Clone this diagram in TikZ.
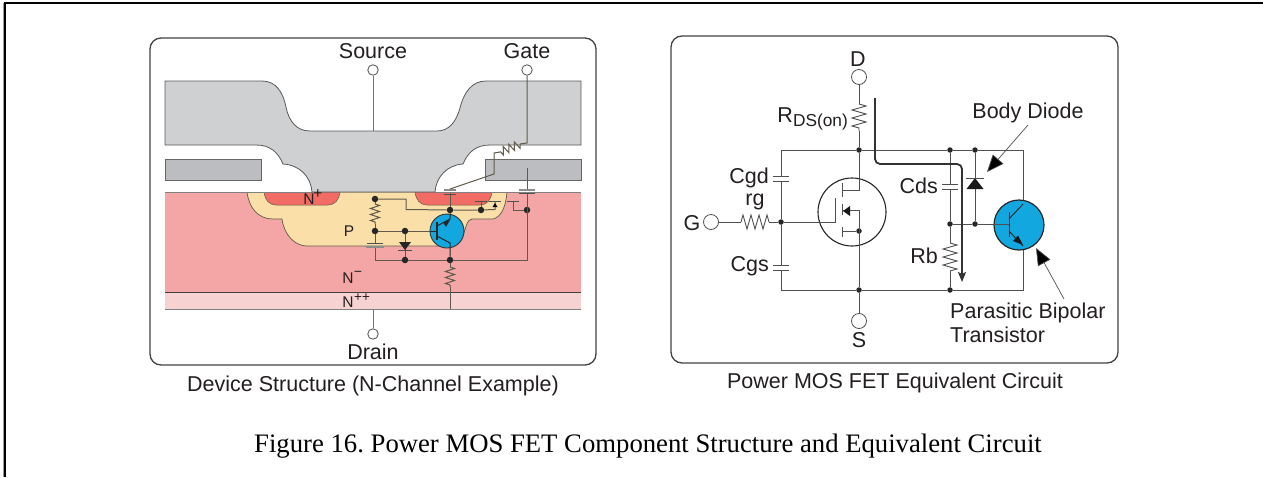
\documentclass[tikz,border=0pt]{standalone}
\usepackage{fontspec}
\setmainfont{Liberation Sans}
\newfontfamily\serifcap{Liberation Serif}
\usetikzlibrary{decorations.pathmorphing,arrows.meta,calc}
\definecolor{metal}{HTML}{CFD0D2}
\definecolor{polyg}{HTML}{BCBDC0}
\definecolor{nminus}{HTML}{F4A5A5}
\definecolor{npp}{HTML}{F6D2D2}
\definecolor{pwell}{HTML}{FAE0A8}
\definecolor{nplus}{HTML}{F06C64}
\definecolor{bjtblue}{HTML}{13A7E0}
\definecolor{wireL}{HTML}{5F5A4A}
\definecolor{wireR}{HTML}{505050}
\definecolor{txt}{HTML}{231F20}
\tikzset{
  panel/.style={draw=txt!85,line width=1.3pt,rounded corners=11pt,fill=white},
  lbl/.style={font=\fontsize{21.5}{24}\selectfont,text=txt,inner sep=0pt},
  smalllbl/.style={lbl,font=\fontsize{15.5}{18}\selectfont},
  term/.style={circle,draw=wireR,fill=white,line width=.8pt,minimum size=#1,inner sep=0pt},
  jdot/.style={circle,fill=black!85,minimum size=6.5pt,inner sep=0pt},
  jsmall/.style={circle,fill=black!85,minimum size=5.5pt,inner sep=0pt},
  wire/.style={draw=wireL,line width=1pt},
  rwire/.style={draw=wireR,line width=.9pt},
  resL/.style={wire,decorate,decoration={zigzag,segment length=6pt,amplitude=4.5pt}},
  resR/.style={rwire,decorate,decoration={zigzag,segment length=8pt,amplitude=7pt}},
  plate/.style={draw=wireR,line width=1pt},
  callout/.style={draw=wireR,line width=.7pt,-{Triangle[length=17pt,width=14pt,fill=black]}},
}
\begin{document}
\frenchspacing
\begin{tikzpicture}[x=1pt,y=-1pt]
\useasboundingbox (0,0) rectangle (1263,477);
\fill[white] (0,0) rectangle (1263,477);
% outer page frame
\draw[black,line width=2pt] (5,477) -- (5,3) -- (1263,3);
\draw[black!40,line width=1pt] (3.5,477) -- (3.5,3);
% ---------- left panel ----------
\draw[panel] (150,38) rectangle (596,365);
% substrate layers
\fill[nminus] (165,192) rectangle (581,292);
\fill[npp] (165,292) rectangle (581,309);
\draw[black!75,line width=.9pt] (165,292) -- (581,292);
\draw[black!50,line width=1pt] (165,309) -- (581,309);
% p well
\path[fill=pwell,draw=wireL,line width=.7pt]
  (247,192) .. controls (249,208) and (258,219) .. (273,219) -- (282,219)
  .. controls (284,235) and (295,246) .. (307,246) -- (450,246)
  -- (462,238) .. controls (466,228) and (467,219) .. (472,219) -- (493,219)
  .. controls (502,217) and (506,205) .. (507,192) -- cycle;
% n+ regions
\path[fill=nplus,draw=wireL,line width=.5pt] (264,192) .. controls (265,200) and (269,205) .. (276,205) -- (328,205) .. controls (335,205) and (339,200) .. (340,192) -- cycle;
\path[fill=nplus,draw=wireL,line width=.5pt] (415,192) .. controls (416,200) and (420,205) .. (427,205) -- (480,205) .. controls (487,205) and (491,200) .. (492,192) -- cycle;
% white oxide + metal
\fill[white] (165,145) rectangle (581,192);
\draw[black!50,line width=.8pt] (165,192) -- (312,192);
\draw[black!50,line width=.8pt] (435,192) -- (581,192);
\path[fill=polyg,draw=black!60,line width=.8pt] (165,159.5) rectangle (261,180);
\path[fill=polyg,draw=black!60,line width=.8pt] (485,159.5) rectangle (581,180);
\path[fill=metal,draw=black!65,line width=.8pt]
  (165,81) -- (262,81) .. controls (276,81) and (283,92) .. (286,107)
  .. controls (289,122) and (297,131) .. (310,131) -- (437,131)
  .. controls (449,131) and (456,122) .. (460,108)
  .. controls (464,92) and (472,81) .. (486,81) -- (581,81) -- (581,145)
  -- (490,145) .. controls (476,145) and (468,152) .. (463,164)
  .. controls (447,165) and (436,177) .. (435,192) -- (312,192)
  .. controls (311,177) and (300,165) .. (283,164)
  .. controls (278,152) and (270,145) .. (256,145) -- (165,145) -- cycle;
% terminals
\node[term=10.5pt] (tS) at (373,70) {};
\node[term=10.5pt] (tG) at (527,70) {};
\node[term=10.5pt] (tD) at (373,334) {};
\node[lbl,anchor=center] (lS) at (373,51) {Source};
\node[lbl,anchor=center] (lG) at (527,51) {Gate};
\node[lbl,anchor=center] (lDr) at (373,352) {Drain};
\coordinate (sM) at (373,131);
\coordinate (dB) at (373,309);
\draw[wire,draw=black!55] (tS) -- (sM);
\draw[wire,draw=black!55] (tD) -- (dB);
% BJT body
\node[circle,fill=bjtblue,draw=black!80,line width=.9pt,minimum size=34pt,inner sep=0pt] (qL) at (447,231) {};
% nodes
\node[jdot] (a1) at (375,199) {};
\node[jdot] (a2) at (375,231) {};
\node[jdot] (a3) at (405,231) {};
\node[jdot] (a4) at (405,260) {};
\node[jdot] (a5) at (450,260) {};
\node[jdot] (a6) at (450,210) {};
\node[jdot] (a7) at (481,210) {};
\node[jdot] (a8) at (527,210) {};
\coordinate (c1) at (375,243);
\coordinate (c2) at (375,248);
\coordinate (c3) at (375,260);
\coordinate (c4) at (527,260);
\coordinate (c5) at (527,193);
\coordinate (c6) at (527,189);
\coordinate (c7) at (527,168);
\coordinate (r1) at (375,204);
\coordinate (r2) at (375,224);
\coordinate (r3) at (450,267);
\coordinate (r4) at (450,287);
\coordinate (r5) at (450,309);
\coordinate (e1) at (450,193);
\coordinate (e2) at (406,199);
\coordinate (e3) at (406,209.5);
\coordinate (e4) at (495,209.5);
\coordinate (e5) at (481,202);
\coordinate (e6) at (495,202);
\coordinate (e7) at (513,210);
\coordinate (e8) at (513,201);
\coordinate (g1) at (527,143);
\coordinate (g2) at (520,144);
\coordinate (g3) at (500,152);
\coordinate (g4) at (494,153);
\coordinate (g5) at (494,174);
\coordinate (g6) at (450,189);
\draw[wire] (a1) -- (r1);
\draw[resL] (r1) -- (r2);
\draw[wire] (r2) -- (a2);
\draw[wire] (a2) -- (c1);
\draw[wire] (c2) -- (c3) -- (a4) -- (a5) -- (c4) -- (c5);
\draw[wire] (c6) -- (c7);
\draw[wire] (a2) -- (a3) -- (qL.west);
\draw[wire] (a3) -- (a4);
\draw[wire] (a1) -- (e2) -- (e3) -- (a6) -- (a7) -- (e4) -- (e6);
\draw[wire] (e1) -- (a6);
\draw[wire] (a7) -- (e5);
\draw[wire] (a8) -- (e7) -- (e8);
\draw[wire] (a5) -- (r3);
\draw[resL] (r3) -- (r4);
\draw[wire] (r4) -- (r5);
\draw[wire] (tG) -- (g1) -- (g2);
\draw[wire,decorate,decoration={zigzag,segment length=6pt,amplitude=4pt}] (g2) -- (g3);
\draw[wire] (g3) -- (g4) -- (g5) -- (g6);
% plates
\draw[plate] (367,243.5) -- (383,243.5);
\draw[plate,black!45,line width=1.6pt] (366,247) -- (384,247);
\draw[plate,black!45,line width=1.6pt] (444,190) -- (456,190);
\draw[plate] (444,194) -- (456,194);
\draw[plate,black!45,line width=1.6pt] (519,190) -- (535,190);
\draw[plate] (519,193.5) -- (535,193.5);
\draw[plate] (475,201) -- (487,201);
\draw[plate] (489,201) -- (501,201);
\draw[plate] (507,201) -- (519,201);
\fill[black] (495,203) -- (492.5,207) -- (497.5,207) -- cycle;
% body diode in left
\fill[black!85] (399,242) -- (411,242) -- (405,250) -- cycle;
\draw[plate] (398,250.5) -- (412,250.5);
% BJT inside
\coordinate (b1) at (437,222);
\coordinate (b2) at (437,240);
\coordinate (b3) at (437,226);
\coordinate (b4) at (437,236);
\coordinate (b5) at (450,219);
\coordinate (b6) at (450,243);
\draw[black!85,line width=1.6pt] (b1) -- (b2);
\draw[black!85,line width=1pt] (b3) -- (b5) -- (a6);
\draw[black!85,line width=1pt] (b4) -- (b6) -- (a5);
\draw[black!85,line width=1pt] (qL.west) -- ($(b1)!.5!(b2)$);
\fill[black!85] (450,220) -- (443,222.5) -- (446,227) -- cycle;
% labels
\node[smalllbl,anchor=base] (lNp) at (309,204) {N};
\node[smalllbl,anchor=center] (lNpS) at (318,194) {+};
\node[smalllbl] (lP) at (349,231) {P};
\node[smalllbl,anchor=base] (lNm) at (348,283) {N};
\node[smalllbl,anchor=center] (lNmS) at (358,274) {\fontsize{14}{14}\selectfont −};
\node[smalllbl,anchor=base] (lNpp) at (348,307) {N};
\node[smalllbl,anchor=center] (lNppS) at (362,298) {\fontsize{13.5}{14}\selectfont ++};
\node[lbl,anchor=center] (cL) at (373,386) {Device Structure (N-Channel Example)};
% ---------- right panel ----------
\draw[panel] (671,36) rectangle (1118,363);
\node[term=15pt] (D) at (859,77) {};
\node[term=15pt] (S) at (859,321) {};
\node[term=15pt] (G) at (711,222) {};
\node[lbl,anchor=center] (lD) at (858,59) {D};
\node[lbl,anchor=center] (lSS) at (859,340) {S};
\node[lbl,anchor=center] (lGG) at (692,223) {G};
\node[jsmall] (n1) at (859,150) {};
\node[jsmall] (n2) at (950,150) {};
\node[jsmall] (n3) at (975,150) {};
\node[jsmall] (n4) at (859,290) {};
\node[jsmall] (n5) at (950,290) {};
\node[jsmall] (n6) at (781,222) {};
\node[jsmall] (n7) at (950,224) {};
\node[jsmall] (n8) at (975,224) {};
\node[jsmall] (n9) at (859,231) {};
\coordinate (tl) at (781,150);
\coordinate (bl) at (781,290);
\coordinate (tr) at (1023,150);
\coordinate (br) at (1023,290);
\coordinate (q1) at (1023,204);
\coordinate (q2) at (1023,246);
\coordinate (rd1) at (859,104);
\coordinate (rd2) at (859,131);
\coordinate (rg1) at (741,222);
\coordinate (rg2) at (769,222);
\coordinate (rb1) at (950,243);
\coordinate (rb2) at (950,271);
\draw[rwire] (D) -- (rd1);
\draw[resR] (rd1) -- (rd2);
\draw[rwire] (rd2) -- (n1);
\draw[rwire] (G) -- (rg1);
\draw[resR] (rg1) -- (rg2);
\draw[rwire] (rg2) -- (n6);
\draw[rwire] (n4) -- (S);
\draw[rwire] (tl) -- (n1) -- (n2) -- (n3) -- (tr) -- (q1);
\draw[rwire] (q2) -- (br) -- (n5) -- (n4) -- (bl);
\draw[rwire] (tl) -- (781,176) (781,181.5) -- (n6) -- (781,265) (781,270.5) -- (bl);
\draw[plate] (773,176) -- (789,176) (773,181.5) -- (789,181.5);
\draw[plate] (773,265) -- (789,265) (773,270.5) -- (789,270.5);
\draw[rwire] (n2) -- (950,184) (950,189.5) -- (n7);
\draw[plate] (942,184) -- (958,184) (942,189.5) -- (958,189.5);
\draw[rwire] (n7) -- (rb1);
\draw[resR] (rb1) -- (rb2);
\draw[rwire] (rb2) -- (n5);
\draw[rwire] (n3) -- (n8);
\fill[black!90] (975,178) -- (966.5,189) -- (983.5,189) -- cycle;
\draw[plate] (966,178) -- (984,178);
% MOSFET
\node[circle,draw=black!85,line width=1.1pt,minimum size=68pt,inner sep=0pt] (M) at (852,212) {};
\coordinate (m1) at (835,222);
\coordinate (m2) at (835,198);
\coordinate (d1) at (842,190);
\coordinate (d2) at (859,190);
\coordinate (s1) at (842,210);
\coordinate (s2) at (859,210);
\coordinate (s3) at (842,231);
\draw[rwire] (n6) -- (m1) -- (m2);
\draw[rwire] (n1) -- (d2) -- (d1);
\draw[rwire] (n4) -- (s2) -- (s1);
\draw[rwire] (n9) -- (s3);
\draw[rwire] (842,183) -- (842,197) (842,204) -- (842,215) (842,227) -- (842,237);
\fill[black!90] (843,211) -- (850,206) -- (850,216) -- cycle;
% parasitic bipolar
\node[circle,fill=bjtblue,draw=black!85,line width=1.2pt,minimum size=50pt,inner sep=0pt] (Q) at (1019,225) {};
\coordinate (qb) at (1009,224);
\draw[rwire] (n7) -- (n8) -- (qb);
\draw[black!85,line width=1pt] (1009,212) -- (1009,237);
\draw[black!85,line width=.9pt] (1009,219) -- (q1);
\draw[black!85,line width=.9pt] (1009,231) -- (q2);
\fill[black!90] (1023,245) -- (1013,241) -- (1018,235.5) -- cycle;
% thick current path
\coordinate (i1) at (875,98);
\coordinate (i2) at (875,164);
\coordinate (i3) at (962,164);
\coordinate (i4) at (962,282);
\draw[black!80,line width=1.8pt,rounded corners=5pt,-{Stealth[length=10pt,width=8pt,inset=2pt]}] (i1) -- (i2) -- (i3) -- (i4);
% labels
\node[lbl,anchor=base east] (lRds) at (848,122) {R\raisebox{-4.5pt}{\fontsize{17.3}{20}\selectfont DS(on)}};
\node[lbl,anchor=east] (lCgd) at (769,178) {Cgd};
\node[lbl,anchor=center] (lrg) at (755,202) {rg};
\node[lbl,anchor=east] (lCgs) at (769,266) {Cgs};
\node[lbl,anchor=east] (lCds) at (938,186) {Cds};
\node[lbl,anchor=east] (lRb) at (938,256) {Rb};
\node[lbl,anchor=center] (lBD) at (1028,113) {Body Diode};
\node[lbl,anchor=west] (lPB) at (950,313) {Parasitic Bipolar};
\node[lbl,anchor=west] (lTr) at (950,335) {Transistor};
\coordinate (bdA) at (1028,125);
\coordinate (bdB) at (987,172);
\coordinate (pbA) at (1064,299);
\coordinate (pbB) at (1036,248);
\draw[callout] (bdA) -- (bdB);
\draw[callout] (pbA) -- (pbB);
\node[lbl,anchor=center,font=\fontsize{21.5}{24}\selectfont] (cR) at (895,383) {Power MOS FET Equivalent Circuit};
\node[lbl,anchor=center,font=\serifcap\fontsize{26.7}{30}\selectfont,text=black] (cap) at (648,446) {Figure 16. Power MOS FET Component Structure and Equivalent Circuit};
\end{tikzpicture}
\end{document}
